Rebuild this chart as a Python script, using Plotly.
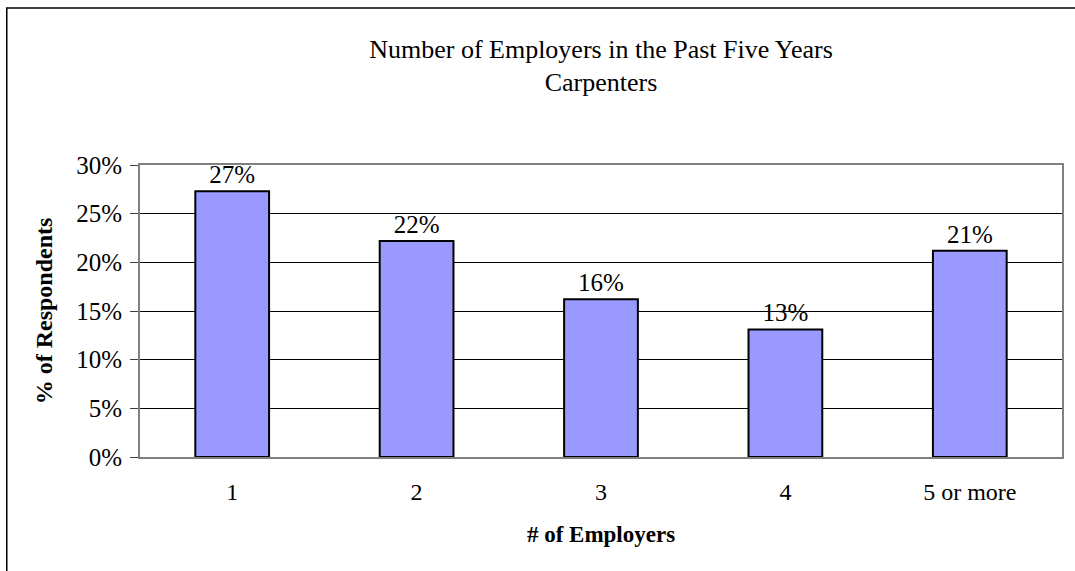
import plotly.graph_objects as go

categories = ["1", "2", "3", "4", "5 or more"]
values = [0.273, 0.222, 0.162, 0.131, 0.212]
y_ticks = [0, 0.05, 0.10, 0.15, 0.20, 0.25, 0.30]

FONT = "Liberation Serif, Times New Roman, serif"

fig = go.Figure()
fig.add_trace(go.Bar(
    x=categories, y=values,
    marker=dict(color="#9999FF", line=dict(color="black", width=2)),
    width=0.4,
    texttemplate="%{y:.0%}", textposition="outside",
    textfont=dict(family=FONT, size=25, color="black"),
    cliponaxis=False,
))

fig.update_layout(
    width=1075, height=571,
    margin=dict(l=140, r=11, t=165, b=114),
    paper_bgcolor="white", plot_bgcolor="white",
    showlegend=False,
    title=dict(
        text="Number of Employers in the Past Five Years<br>Carpenters",
        x=0.5, xanchor="center", xref="paper",
        y=0.899, yanchor="middle",
        font=dict(family=FONT, size=26, color="black"),
    ),
    font=dict(family=FONT, color="black"),
)

fig.update_xaxes(
    type="category",
    showline=True, linecolor="#808080", linewidth=2, mirror=True,
    ticks="", showgrid=False,
    tickfont=dict(family=FONT, size=24, color="black"),
    ticklabelstandoff=12,
    title=dict(text="<b># of Employers</b>", font=dict(family=FONT, size=23, color="black"), standoff=22),
)
fig.update_yaxes(
    range=[0, 0.30], tickvals=y_ticks, tickformat=".0%",
    showline=True, linecolor="#808080", linewidth=2, mirror=True,
    ticks="outside", ticklen=8, tickcolor="#404040", tickwidth=1,
    showgrid=True, gridcolor="black", gridwidth=1,
    zeroline=False,
    tickfont=dict(family=FONT, size=25, color="black"),
    ticklabelstandoff=3,
    title=dict(text="<b>% of Respondents</b>", font=dict(family=FONT, size=24, color="black"), standoff=17),
)

# outer chart border
fig.add_shape(type="rect", xref="paper", yref="paper",
              x0=-0.1445, x1=1.05, y0=-0.5, y1=1.5377,
              line=dict(color="black", width=1.5), fillcolor="rgba(0,0,0,0)", layer="below")

fig.write_html("out.html")
